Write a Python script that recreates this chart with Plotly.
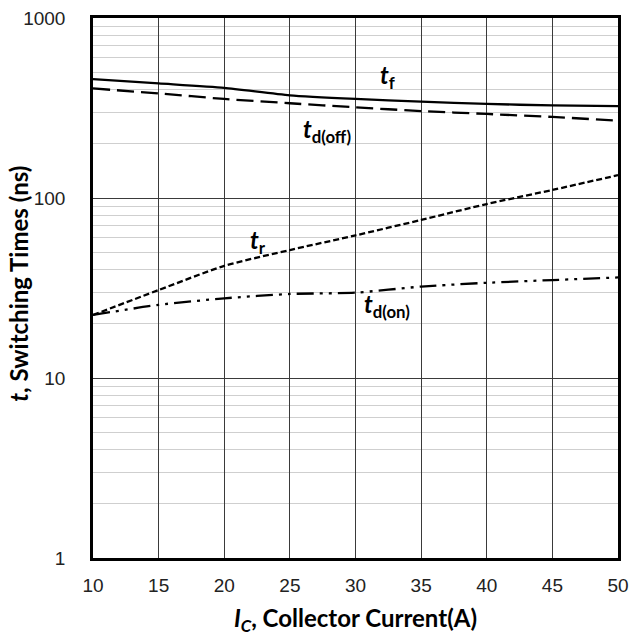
import math
import plotly.graph_objects as go

# Collector current (A)
ic = [10, 15, 20, 25, 30, 35, 40, 45, 50]

# Switching times (ns)
t_f = [458, 433, 409, 372, 355, 343, 333, 327, 324]
t_d_off = [406, 381, 355, 336, 319, 304, 293, 282, 269]
t_r = [22.4, 30.8, 42, 51.4, 62, 75.5, 92.6, 110.8, 134]
t_d_on = [22.4, 25.5, 27.7, 29.3, 29.8, 32.2, 33.8, 35, 36.2]

x_ticks = [10, 15, 20, 25, 30, 35, 40, 45, 50]
y_ticks = [1, 10, 100, 1000]
y_minor = [m * d for d in (1, 10, 100) for m in range(2, 10)]

fig = go.Figure()

series = [
    (t_f, "solid"),
    (t_d_off, "17px,7px"),
    (t_r, "6px,3px"),
    (t_d_on, "17px,6px,3px,6px,3px,6px"),
]
for ys, dash in series:
    fig.add_trace(go.Scatter(
        x=ic, y=ys, mode="lines", line_shape="spline",
        line=dict(color="black", width=2.3, dash=dash, smoothing=0.6),
        showlegend=False, hoverinfo="skip",
    ))

lab_font = dict(family="Lato, Open Sans, sans-serif", size=24, color="black")
labels = [
    (32.4, 475, "<b><i>t</i><sub>f</sub></b>"),
    (27.8, 238, "<b><i>t</i><sub>d(off)</sub></b>"),
    (22.6, 57, "<b><i>t</i><sub>r</sub></b>"),
    (32.4, 25.2, "<b><i>t</i><sub>d(on)</sub></b>"),
]
for x, y, txt in labels:
    fig.add_annotation(x=x, y=math.log10(y), text=txt,
                       showarrow=False, font=lab_font,
                       xanchor="center", yanchor="middle")

title_font = dict(family="Lato, Open Sans, sans-serif", size=24, color="black")
tick_font = dict(family="Liberation Sans, Arial, sans-serif", size=19, color="#222")

# y-axis title placed beside the tick labels
fig.add_annotation(x=0, y=0.508, xref="paper", yref="paper",
                   xshift=-74, textangle=-90, showarrow=False,
                   xanchor="center", yanchor="middle",
                   text="<b><i>t</i>, Switching Times (ns)</b>", font=title_font)

fig.update_layout(
    width=630, height=636,
    margin=dict(l=93, r=12, t=18, b=78),
    paper_bgcolor="white", plot_bgcolor="white",
    xaxis=dict(
        range=[10, 50], tickvals=x_ticks, ticktext=[str(v) for v in x_ticks],
        showgrid=True, gridcolor="#3a3a3a", gridwidth=1.4,
        showline=True, linecolor="black", linewidth=2.5, mirror=True,
        ticks="", tickfont=tick_font, ticklabelstandoff=8,
        zeroline=False, automargin=False,
        title=dict(text="<b><i>I</i><sub><i>C</i></sub>, Collector Current(A)</b>",
                   font=title_font, standoff=16),
    ),
    yaxis=dict(
        type="log", range=[0, 3], tickvals=y_ticks,
        ticktext=[str(v) for v in y_ticks],
        showgrid=True, gridcolor="#3a3a3a", gridwidth=1.4,
        minor=dict(tickvals=y_minor, showgrid=True, gridcolor="#cfcfcf",
                   gridwidth=1.2, ticks=""),
        showline=True, linecolor="black", linewidth=2.5, mirror=True,
        ticks="", tickfont=tick_font, ticklabelstandoff=21,
        zeroline=False, automargin=False,
    ),
)

fig.write_html("out.html")
